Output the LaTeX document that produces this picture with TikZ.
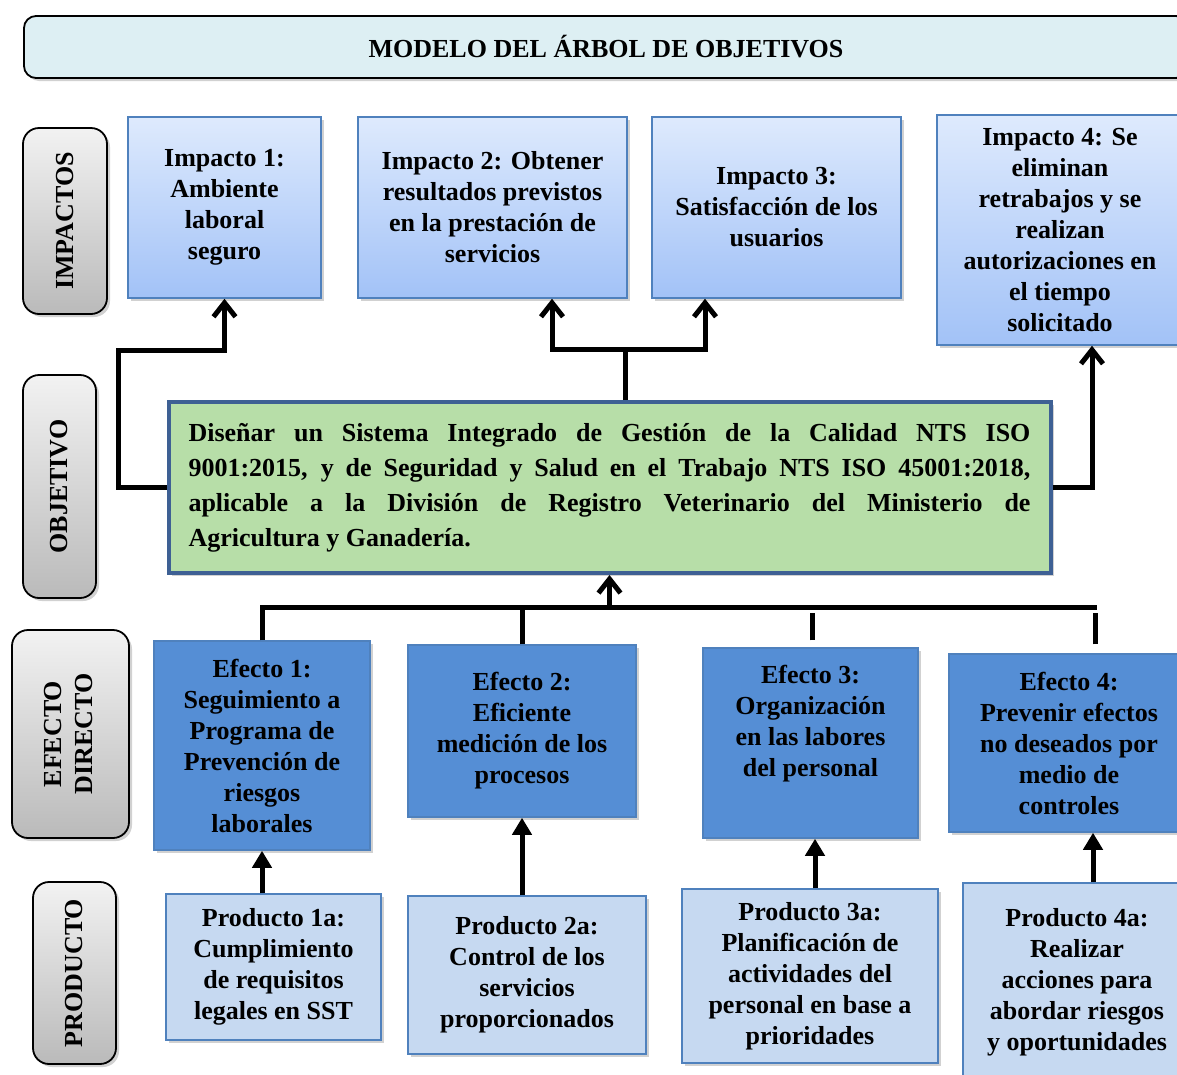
\documentclass[tikz,border=0pt]{standalone}
\usepackage{fontspec}
\setmainfont{Liberation Serif}
\usepackage{graphicx}
\usetikzlibrary{shadows}
\usetikzlibrary{positioning}
\usetikzlibrary{arrows.meta,shapes}
\usetikzlibrary{calc}

\definecolor{titlefill}{RGB}{221,239,243}
\definecolor{sidetop}{RGB}{242,242,242}
\definecolor{sidebot}{RGB}{186,186,186}
\definecolor{imptop}{RGB}{222,234,253}
\definecolor{impbot}{RGB}{162,194,247}
\definecolor{boxline}{RGB}{79,129,189}
\definecolor{objfill}{RGB}{183,222,168}
\definecolor{objline}{RGB}{62,96,148}
\definecolor{efffill}{RGB}{85,142,213}
\definecolor{prodfill}{RGB}{198,217,241}

\tikzset{
  boxsize/.style 2 args={minimum width=#1pt, minimum height=#2pt},
  boxshadow/.style={drop shadow={shadow xshift=3pt, shadow yshift=-3pt, opacity=0.3, fill=black!60}},
  titlebox/.style={draw=black, line width=1.8pt, rounded corners=12pt, fill=titlefill, boxshadow},
  sidebox/.style={draw=black, line width=1.8pt, rounded corners=16pt, top color=sidetop, bottom color=sidebot, boxshadow},
  impbox/.style={draw=boxline, line width=1.5pt, top color=imptop, bottom color=impbot, boxshadow, align=center},
  objbox/.style={draw=objline, line width=4pt, fill=objfill, boxshadow, text width=842pt, align=justify,
                 inner xsep=20pt, font=\fontsize{26}{35}\selectfont\bfseries},
  effbox/.style={draw=boxline, line width=1.5pt, fill=efffill, boxshadow, align=center},
  prodbox/.style={draw=boxline, line width=1.5pt, fill=prodfill, boxshadow, align=center},
  link/.style={line width=5pt},
  openarrow/.style={link, -{Straight Barb[length=14pt,width=22pt]}},
  fillarrow/.style={link, -{Triangle[length=17pt,width=19pt]}},
}

\begin{document}
\begin{tikzpicture}[x=1pt, y=-1pt, font=\fontsize{26}{31}\selectfont\bfseries]

  \useasboundingbox (0,0) rectangle (1177,1074);

  %title
  \node[titlebox, boxsize={1164}{62}] (title) at (606,47) {MODELO DEL ÁRBOL DE OBJETIVOS};

  %side labels
  \foreach \name/\cx/\cy/\w/\h/\txt in {simp/65/221/84/186/{IMPACTOS},
         sobj/59.5/486.5/73/223/{OBJETIVO},
         seff/70.5/734/117/208/{\begin{tabular}{@{}c@{}}EFECTO\\DIRECTO\end{tabular}},
         sprod/74.5/973/83/182/{PRODUCTO}}{
    \node[sidebox, boxsize={\w}{\h}] (\name) at (\cx,\cy) {\rotatebox{90}{\txt}};
  }

  %impacts
  \node[impbox, boxsize={193}{181}] (i1) at (224.5,207.5) {Impacto 1:\\Ambiente\\laboral\\seguro};
  \node[impbox, boxsize={269}{181}] (i2) at (492.5,207.5) {Impacto 2: Obtener\\resultados previstos\\en la prestación de\\servicios};
  \node[impbox, boxsize={249}{181}] (i3) at (776.5,207.5) {Impacto 3:\\Satisfacción de los\\usuarios};
  \node[impbox, boxsize={246}{230}] (i4) at (1060,230) {Impacto 4: Se\\eliminan\\retrabajos y se\\realizan\\autorizaciones en\\el tiempo\\solicitado};

  %objective
  \node[objbox, minimum height=171pt] (obj) at (609.5,487.5) {Diseñar un Sistema Integrado de Gestión de la Calidad NTS ISO\linebreak
    9001:2015, y de Seguridad y Salud en el Trabajo NTS ISO 45001:2018,\linebreak
    aplicable a la División de Registro Veterinario del Ministerio de\linebreak
    Agricultura y Ganadería.};

  %direct effects
  \node[effbox, boxsize={216}{209}] (e1) at (262,745.5) {Efecto 1:\\Seguimiento a\\Programa de\\Prevención de\\riesgos\\laborales};
  \node[effbox, boxsize={228}{172}] (e2) at (522,731) {Efecto 2:\\Eficiente\\medición de los\\procesos};
  \node[effbox, boxsize={215}{190}] (e3) at (810.5,743) {Efecto 3:\\Organización\\en las labores\\del personal\\[13pt]\mbox{}};
  \node[effbox, boxsize={240}{178}] (e4) at (1069,743) {Efecto 4:\\Prevenir efectos\\no deseados por\\medio de\\controles};

  %products
  \node[prodbox, boxsize={215}{146}] (p1) at (273.5,967) {Producto 1a:\\Cumplimiento\\de requisitos\\legales en SST};
  \node[prodbox, boxsize={238}{158}] (p2) at (527,975) {Producto 2a:\\Control de los\\servicios\\proporcionados};
  \node[prodbox, boxsize={256}{174}] (p3) at (810,976) {Producto 3a:\\Planificación de\\actividades del\\personal en base a\\prioridades};
  \node[prodbox, boxsize={228}{199}] (p4) at (1077,982.5) {Producto 4a:\\Realizar\\acciones para\\abordar riesgos\\y oportunidades};

  %objective to impacts
  \coordinate (lbend) at (118,350);
  \coordinate (cbend) at (625,349);
  \draw[openarrow] (obj.west) -| (lbend) -| (i1.south);
  \draw[link] (cbend |- obj.north) -- (cbend);
  \draw[openarrow] (cbend) -| ($(i2.south)+(59.5,0)$);
  \draw[openarrow] (cbend) -| ($(i3.south)+(-71.5,0)$);
  \draw[openarrow] (obj.east) -| ($(i4.south)+(32,0)$);

  %effects to objective
  \coordinate (busend) at (1097,607);
  \draw[link] (e1.north) |- (busend);
  \draw[link] (e2.north) -- (e2.north |- busend);
  \draw[link] ($(e3.north)+(1.5,-7)$) -- ($(e3.north |- busend)+(1.5,6)$);
  \draw[link] ($(e4.north)+(26,-9)$) -- ($(e4.north |- busend)+(26,6)$);
  \draw[openarrow] (obj.south |- busend) -- (obj.south);

  %products to effects
  \draw[fillarrow] (e1.south |- p1.north) -- (e1.south);
  \draw[fillarrow] (e2.south |- p2.north) -- (e2.south);
  \draw[fillarrow] ($(e3.south |- p3.north)+(4.5,0)$) -- ($(e3.south)+(4.5,0)$);
  \draw[fillarrow] ($(e4.south |- p4.north)+(24,0)$) -- ($(e4.south)+(24,0)$);

\end{tikzpicture}
\end{document}
